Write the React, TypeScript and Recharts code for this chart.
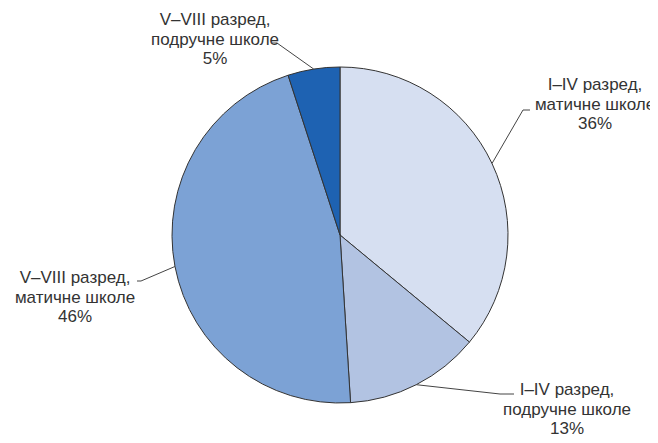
import { PieChart, Pie, Cell } from 'recharts';

const NAMES = ['I–IV разред, матичне школе', 'I–IV разред, подручне школе', 'V–VIII разред, матичне школе', 'V–VIII разред, подручне школе'];
const LINE1 = ['I–IV разред,', 'I–IV разред,', 'V–VIII разред,', 'V–VIII разред,'];
const LINE2 = ['матичне школе', 'подручне школе', 'матичне школе', 'подручне школе'];
const VALUES = [36, 13, 46, 5];

const COLORS = ['#d6dff1', '#b2c3e2', '#7ca2d5', '#1e62b2'];

// label layout: text centre x, first baseline y, elbow point, end of the short horizontal bit
const LABEL_POS = [
  { tx: 595, ty: 90, ex: 523, ey: 110, hx: 530 },
  { tx: 567, ty: 395, ex: 500, ey: 394, hx: 514 },
  { tx: 75, ty: 283, ex: 141, ey: 281, hx: 137 },
  { tx: 215, ty: 25, ex: 277, ey: 43, hx: 272 },
];

const data = NAMES.map((name, i) => ({ name, value: VALUES[i] }));

const RAD = Math.PI / 180;

function renderLabel(props: any) {
  const { cx, cy, midAngle, outerRadius, index, value } = props;
  const pos = LABEL_POS[index];
  const px = cx + outerRadius * Math.cos(-midAngle * RAD);
  const py = cy + outerRadius * Math.sin(-midAngle * RAD);
  return (
    <g key={`lbl-${index}`}>
      <polyline
        points={`${px},${py} ${pos.ex},${pos.ey} ${pos.hx},${pos.ey}`}
        fill="none"
        stroke="#444"
        strokeWidth={1}
      />
      <text
        x={pos.tx}
        y={pos.ty}
        textAnchor="middle"
        fill="#333"
        style={{ fontFamily: 'Liberation Sans, Arial, sans-serif', fontSize: 17 }}
      >
        <tspan x={pos.tx} dy={0}>{LINE1[index]}</tspan>
        <tspan x={pos.tx} dy={19.5}>{LINE2[index]}</tspan>
        <tspan x={pos.tx} dy={19.5}>{`${value}%`}</tspan>
      </text>
    </g>
  );
}

export default function App() {
  return (
    <div style={{ width: 658, height: 443, margin: -8, background: '#fff' }}>
      <PieChart width={658} height={443} margin={{ top: 0, right: 0, bottom: 0, left: 0 }}>
        <Pie
          data={data}
          dataKey="value"
          nameKey="name"
          cx={340}
          cy={235}
          outerRadius={168}
          startAngle={90}
          endAngle={-270}
          stroke="#333"
          strokeWidth={1}
          label={renderLabel}
          labelLine={false}
          isAnimationActive={false}
        >
          {data.map((d, i) => (
            <Cell key={d.name} fill={COLORS[i]} />
          ))}
        </Pie>
      </PieChart>
    </div>
  );
}
